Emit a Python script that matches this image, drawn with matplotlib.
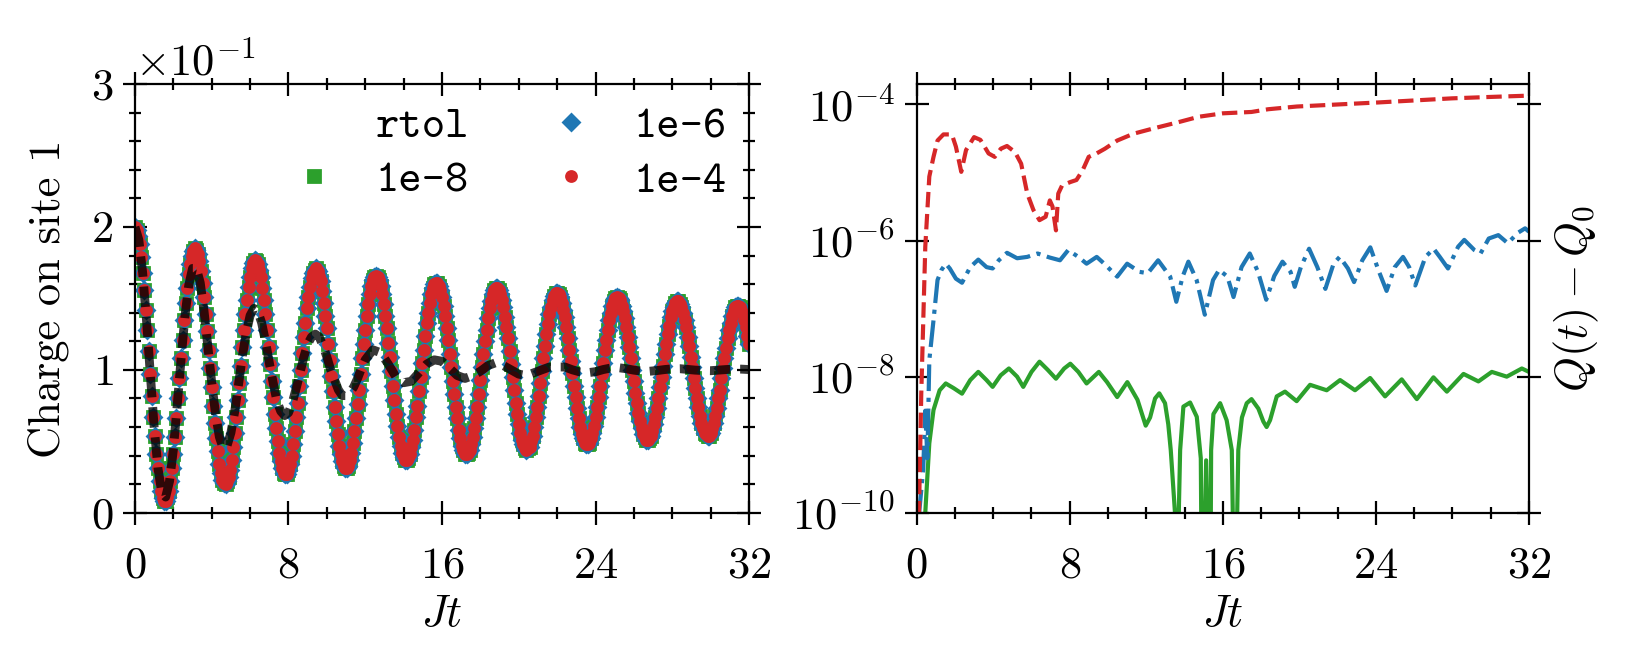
import numpy as np
import matplotlib
matplotlib.use('Agg')
import matplotlib.pyplot as plt
from matplotlib.ticker import MultipleLocator, FixedLocator, NullLocator
from matplotlib.lines import Line2D

plt.rcParams['font.family'] = 'serif'
plt.rcParams['font.serif'] = ['cmr10']
plt.rcParams['mathtext.fontset'] = 'cm'
plt.rcParams['axes.formatter.use_mathtext'] = True
plt.rcParams['axes.unicode_minus'] = True
plt.rcParams['font.size'] = 16

# --- left panel: charge on site 1 (in units of 1e-1), one sample every 0.08 Jt
t_charge = [0.08 * k for k in range(401)]
# the three rtol runs overlap at plot resolution
charge = [
    2.00, 1.98, 1.94, 1.88, 1.79, 1.68, 1.56, 1.42, 1.28, 1.13,
    0.97, 0.82, 0.67, 0.54, 0.41, 0.31, 0.22, 0.15, 0.10, 0.08,
    0.08, 0.11, 0.15, 0.22, 0.31, 0.41, 0.53, 0.66, 0.80, 0.94,
    1.08, 1.21, 1.35, 1.47, 1.57, 1.67, 1.74, 1.80, 1.83, 1.85,
    1.84, 1.81, 1.76, 1.69, 1.61, 1.51, 1.39, 1.27, 1.14, 1.01,
    0.88, 0.75, 0.63, 0.52, 0.43, 0.34, 0.28, 0.23, 0.21, 0.20,
    0.22, 0.25, 0.30, 0.37, 0.46, 0.56, 0.67, 0.79, 0.91, 1.03,
    1.16, 1.28, 1.39, 1.49, 1.58, 1.65, 1.71, 1.75, 1.77,
    1.76, 1.74, 1.70, 1.65, 1.57, 1.49, 1.39, 1.28, 1.16, 1.04,
    0.92, 0.81, 0.69, 0.59, 0.50, 0.42, 0.36, 0.31, 0.28, 0.27,
    0.27, 0.30, 0.34, 0.40, 0.48, 0.57, 0.67, 0.77, 0.89, 1.00,
    1.12, 1.23, 1.33, 1.43, 1.51, 1.58, 1.64, 1.68, 1.70,
    1.71, 1.69, 1.66, 1.62, 1.55, 1.47, 1.38, 1.29, 1.18, 1.07,
    0.96, 0.85, 0.74, 0.64, 0.55, 0.47, 0.41, 0.36, 0.33, 0.31,
    0.31, 0.33, 0.37, 0.42, 0.49, 0.57, 0.66, 0.76, 0.86, 0.97,
    1.08, 1.18, 1.28, 1.38, 1.46, 1.53, 1.59, 1.63, 1.65,
    1.66, 1.65, 1.63, 1.59, 1.53, 1.46, 1.38, 1.29, 1.19, 1.09,
    0.99, 0.89, 0.79, 0.69, 0.61, 0.53, 0.47, 0.42, 0.39, 0.37,
    0.37, 0.38, 0.41, 0.46, 0.51, 0.58, 0.67, 0.75, 0.85, 0.95,
    1.05, 1.14, 1.24, 1.33, 1.40, 1.47, 1.53, 1.57, 1.60,
    1.61, 1.61, 1.59, 1.56, 1.51, 1.45, 1.38, 1.29, 1.21, 1.11,
    1.02, 0.92, 0.83, 0.74, 0.66, 0.58, 0.52, 0.47, 0.44, 0.41,
    0.41, 0.42, 0.44, 0.48, 0.53, 0.59, 0.66, 0.74, 0.83, 0.93,
    1.02, 1.11, 1.20, 1.28, 1.36, 1.43, 1.48, 1.53, 1.56,
    1.57, 1.57, 1.56, 1.53, 1.49, 1.44, 1.37, 1.30, 1.22, 1.13,
    1.04, 0.95, 0.86, 0.77, 0.69, 0.62, 0.56, 0.51, 0.48, 0.45,
    0.44, 0.45, 0.46, 0.50, 0.54, 0.60, 0.67, 0.74, 0.82, 0.91,
    0.99, 1.08, 1.17, 1.25, 1.32, 1.39, 1.44, 1.49, 1.52,
    1.54, 1.54, 1.53, 1.51, 1.47, 1.42, 1.37, 1.30, 1.22, 1.14,
    1.06, 0.98, 0.89, 0.81, 0.73, 0.66, 0.60, 0.55, 0.52, 0.49,
    0.48, 0.48, 0.49, 0.52, 0.56, 0.61, 0.67, 0.74, 0.81, 0.89,
    0.97, 1.05, 1.14, 1.21, 1.28, 1.35, 1.40, 1.45, 1.48,
    1.50, 1.51, 1.50, 1.49, 1.45, 1.41, 1.36, 1.30, 1.23, 1.16,
    1.08, 1.00, 0.92, 0.84, 0.77, 0.70, 0.64, 0.59, 0.55, 0.53,
    0.51, 0.51, 0.52, 0.54, 0.57, 0.62, 0.67, 0.73, 0.80, 0.88,
    0.95, 1.03, 1.11, 1.18, 1.25, 1.31, 1.37, 1.41, 1.44,
    1.47, 1.48, 1.48, 1.46, 1.44, 1.40, 1.35, 1.30, 1.23, 1.17,
    1.09, 1.02, 0.94, 0.87, 0.80, 0.74, 0.68, 0.63, 0.59, 0.56,
    0.55, 0.54, 0.54, 0.56, 0.59, 0.63, 0.68, 0.73, 0.80, 0.86,
    0.94, 1.01, 1.08, 1.15, 1.22, 1.28, 1.33, 1.38, 1.41,
    1.44, 1.45, 1.45, 1.44, 1.42, 1.39, 1.35, 1.30, 1.24, 1.18,
]

# reference curve (black dashed)
t_ref = [0.2 * k for k in range(61)] + [12.4 + 0.4 * k for k in range(50)]
ref = [
    2.00, 1.91, 1.68, 1.35, 0.97, 0.60, 0.31, 0.14, 0.11, 0.22,
    0.44, 0.75, 1.07, 1.37, 1.59, 1.71, 1.71, 1.61, 1.41, 1.16,
    0.91, 0.69, 0.53, 0.45, 0.47, 0.56, 0.71, 0.90, 1.10, 1.26,
    1.38, 1.43, 1.41, 1.33, 1.20, 1.05, 0.91, 0.78, 0.71, 0.68,
    0.70, 0.77, 0.87, 0.98, 1.09, 1.18, 1.23, 1.25, 1.23, 1.17,
    1.09, 1.00, 0.93, 0.86, 0.82, 0.82, 0.84, 0.88, 0.94, 1.01,
    1.07,
    1.14, 1.12, 1.04, 0.95, 0.91, 0.92, 0.98, 1.04, 1.07, 1.06,
    1.01, 0.96, 0.94, 0.96, 0.99, 1.03, 1.05, 1.03, 1.00, 0.97,
    0.96, 0.98, 1.00, 1.02, 1.02, 1.02, 1.00, 0.985, 0.98, 0.987,
    1.002, 1.013, 1.015, 1.008, 0.998, 0.991, 0.99, 0.995, 1.002, 1.007,
    1.008, 1.003, 0.998, 0.995, 0.994, 0.998, 1.002, 1.005, 1.005, 1.002,
]

# --- right panel: log10 of Q(t) - Q0
red_t = [0.0, 0.1, 0.24, 0.45, 0.66, 0.88, 1.09, 1.4, 1.84, 2.05,
         2.33, 2.58, 3.0, 3.33, 3.76, 4.08, 4.4, 4.72, 5.14, 5.46,
         5.78, 6.1, 6.42, 6.74, 6.96, 7.1, 7.28, 7.4, 7.6, 8.03,
         8.35, 8.67, 8.99, 9.4, 9.84, 10.48, 11.33, 12.4, 13.68, 14.75,
         16.0, 17.5, 18.37, 19.87, 22.0, 24.14, 26.06, 27.98, 29.9, 32.0]
red_log = [-12, -10.3, -8.25, -6.09, -5.06, -4.77, -4.53, -4.44, -4.44, -4.62,
           -4.99, -4.67, -4.48, -4.52, -4.72, -4.77, -4.65, -4.61, -4.70, -4.87,
           -5.31, -5.55, -5.70, -5.65, -5.41, -5.50, -5.85, -5.31, -5.19, -5.14,
           -5.11, -4.97, -4.77, -4.72, -4.65, -4.53, -4.43, -4.35, -4.26, -4.18,
           -4.13, -4.11, -4.07, -4.03, -4.00, -3.97, -3.94, -3.91, -3.89, -3.87]

blue_t = [0.0, 0.13, 0.34, 0.45, 0.56, 0.66, 0.88, 1.09, 1.3, 1.52,
          1.73, 2.05, 2.37, 2.8, 3.22, 3.65, 3.97, 4.29, 4.72, 5.25,
          5.78, 6.32, 6.96, 7.49, 7.92, 8.45, 8.88, 9.41, 9.84, 10.48,
          11.0, 11.65, 12.08, 12.62, 13.25, 13.57, 13.9, 14.2, 14.63, 15.06,
          15.49, 15.81, 16.24, 16.56, 16.98, 17.41, 17.84, 18.27, 18.69, 19.12,
          19.54, 19.76, 20.08, 20.51, 20.94, 21.36, 21.79, 22.11, 22.54, 22.86,
          23.29, 23.71, 24.14, 24.56, 24.99, 25.42, 25.74, 26.06, 26.59, 27.02,
          27.34, 27.77, 28.3, 28.62, 29.15, 29.47, 29.9, 30.4, 30.9, 31.4,
          31.8, 32.0]
blue_log = [-12, -10.0, -9.37, -8.5, -9.2, -7.76, -7.17, -6.58, -6.43, -6.34,
            -6.41, -6.56, -6.62, -6.39, -6.28, -6.39, -6.41, -6.29, -6.18, -6.26,
            -6.24, -6.19, -6.25, -6.29, -6.14, -6.24, -6.34, -6.24, -6.35, -6.53,
            -6.34, -6.46, -6.48, -6.29, -6.53, -6.90, -6.53, -6.31, -6.58, -7.09,
            -6.58, -6.43, -6.53, -6.83, -6.39, -6.19, -6.46, -6.87, -6.52, -6.31,
            -6.46, -6.68, -6.39, -6.12, -6.39, -6.71, -6.34, -6.24, -6.41, -6.61,
            -6.29, -6.10, -6.44, -6.74, -6.39, -6.24, -6.39, -6.66, -6.24, -6.12,
            -6.24, -6.41, -6.09, -5.99, -6.14, -6.19, -5.97, -5.92, -6.04, -5.89,
            -5.82, -5.87]

green_t = [0.4, 0.45, 0.66, 0.88, 1.2, 1.52, 1.94, 2.37, 2.8, 3.22,
           3.65, 3.97, 4.39, 4.82, 5.25, 5.57, 6.0, 6.42, 6.85, 7.28,
           7.71, 8.03, 8.45, 8.88, 9.52, 9.95, 10.48, 11.01, 11.54, 11.97,
           12.2, 12.46, 12.68, 12.98, 13.15, 13.28, 13.5, 13.6, 13.7, 13.77,
           13.94, 14.29, 14.64, 14.85, 14.92, 15.13, 15.34, 15.39, 15.51, 15.86,
           16.2, 16.47, 16.63, 16.81, 17.0, 17.25, 17.5, 17.86, 18.12, 18.29,
           18.47, 18.82, 19.25, 19.86, 20.56, 21.43, 22.13, 22.91, 23.7, 24.48,
           25.35, 26.14, 27.01, 27.71, 28.58, 29.36, 30.06, 30.84, 31.63, 32.0]
green_log = [-12, -10.0, -8.98, -8.49, -8.2, -8.1, -8.17, -8.25, -8.05, -7.93,
             -8.05, -8.15, -7.98, -7.88, -8.0, -8.15, -7.93, -7.78, -7.9, -8.03,
             -7.88, -7.81, -7.93, -8.1, -7.93, -8.08, -8.3, -8.08, -8.34, -8.72,
             -8.6, -8.32, -8.245, -8.39, -8.7, -9.08, -10.0, -12, -10.0, -9.08,
             -8.44, -8.38, -8.59, -9.2, -12, -9.23, -12, -9.08, -8.55, -8.39,
             -8.64, -9.08, -12, -9.08, -8.6, -8.39, -8.33, -8.47, -8.66, -8.74,
             -8.64, -8.29, -8.22, -8.36, -8.12, -8.2, -8.05, -8.2, -8.02, -8.29,
             -8.04, -8.33, -8.01, -8.22, -7.96, -8.07, -7.93, -8.0, -7.88, -7.93]

c_green = '#2ca02c'
c_blue = '#1f77b4'
c_red = '#d62728'

fig = plt.figure(figsize=(8.17, 3.32), dpi=200)
ax1 = fig.add_axes([0.0826, 0.2278, 0.3758, 0.6456])
ax2 = fig.add_axes([0.5610, 0.2278, 0.3747, 0.6456])

q = np.array(charge) * 1e-1
h8, = ax1.plot(t_charge, q, 's', color=c_green, ms=4, mew=1.0, label='1e-8')
h6, = ax1.plot(t_charge, q, 'D', color=c_blue, ms=4, mew=1.0, label='1e-6')
h4, = ax1.plot(t_charge, q, 'o', color=c_red, ms=4, mew=0.6, label='1e-4')
ax1.plot(t_ref, np.array(ref) * 1e-1, color='k', alpha=0.78, lw=3.2,
         dashes=(2.3, 1.1))

blank = Line2D([], [], linestyle='none', marker='none')
ax1.legend([blank, h8, h6, h4], ['rtol', '1e-8', '1e-6', '1e-4'], ncol=2,
           loc='upper right', frameon=False, handlelength=1.2,
           columnspacing=1.7, labelspacing=0.3, borderaxespad=0.1,
           prop={'family': 'cmtt10', 'size': 16})

ax1.set_xlim(0, 32)
ax1.set_ylim(0, 0.3)
ax1.xaxis.set_major_locator(MultipleLocator(8))
ax1.xaxis.set_minor_locator(MultipleLocator(2))
ax1.yaxis.set_major_locator(MultipleLocator(0.1))
ax1.yaxis.set_minor_locator(MultipleLocator(0.02))
ax1.ticklabel_format(axis='y', style='sci', scilimits=(0, 0))
ax1.set_xlabel('$Jt$', labelpad=3)
ax1.set_ylabel('Charge on site 1', labelpad=8)

ax2.semilogy(green_t, 10.0 ** np.array(green_log), '-', color=c_green, lw=1.5)
ax2.semilogy(blue_t, 10.0 ** np.array(blue_log), '-.', color=c_blue, lw=1.5)
ax2.semilogy(red_t, 10.0 ** np.array(red_log), '--', color=c_red, lw=1.5)
ax2.set_xlim(0, 32)
ax2.set_ylim(1e-10, 10 ** -3.7)
ax2.xaxis.set_major_locator(MultipleLocator(8))
ax2.xaxis.set_minor_locator(MultipleLocator(2))
ax2.yaxis.set_major_locator(FixedLocator([1e-10, 1e-8, 1e-6, 1e-4]))
ax2.yaxis.set_minor_locator(NullLocator())
ax2.set_xlabel('$Jt$', labelpad=3)
ax2.yaxis.set_label_position('right')
ax2.set_ylabel('$Q(t) - Q_0$')

for ax in (ax1, ax2):
    for s in ax.spines.values():
        s.set_linewidth(0.8)
    ax.tick_params(which='both', direction='inout', top=True, right=True,
                   width=0.8)
    ax.tick_params(which='major', length=8.6)
    ax.tick_params(which='minor', length=4)
    ax.tick_params(axis='x', which='major', pad=8)

fig.savefig('out.png', dpi=200)
